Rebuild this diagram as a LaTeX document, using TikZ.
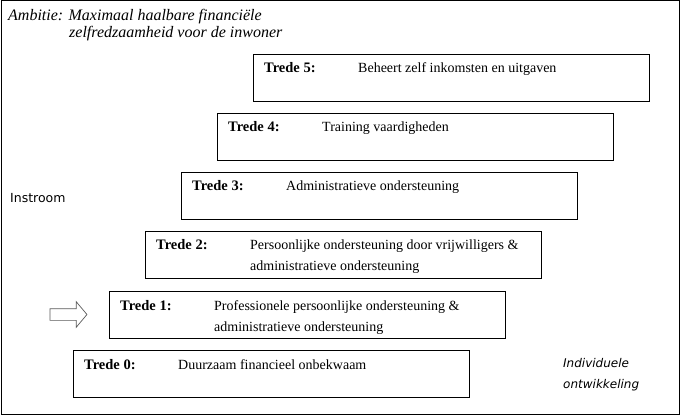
\documentclass[tikz,border=0pt]{standalone}
\usepackage{fontspec}
\setmainfont{Liberation Serif}
\newfontfamily\sansf{DejaVu Sans}
\usetikzlibrary{shapes.arrows}
\newcommand{\twoline}[3]{\vtop{\hbox{#2}\vskip#1\hbox{#3}}}
\begin{document}
\begin{tikzpicture}[x=1pt,y=-1pt,
  stepbox/.style={draw,line width=0.9pt,minimum width=396pt,minimum height=47pt,anchor=north west,inner sep=0pt},
  lbl/.style={anchor=base west,font=\fontsize{14.5}{16}\selectfont\bfseries,inner sep=0pt},
  desc/.style={anchor=base west,font=\fontsize{14}{16}\selectfont,inner sep=0pt},
  frame/.style={draw,line width=1pt}]
\useasboundingbox (0,0) rectangle (681,417);
\draw[frame] (1,1) rectangle (679,414);
\node[anchor=base west,inner sep=0pt,font=\fontsize{16}{16}\selectfont\itshape] (amb) at (8,21)
  {\twoline{1pt}{Ambitie: Maximaal haalbare financiële}{\hspace*{61pt}zelfredzaamheid voor de inwoner}};
\foreach \i/\x/\y in {5/253/54,4/217/113,3/181/172,2/145/231,1/109/291,0/73/350}{
  \node[stepbox] (t\i) at (\x,\y) {};
}
\node[lbl] (l5) at ([xshift=11pt,yshift=-19pt]t5.north west) {Trede 5:};
\node[lbl] (l4) at ([xshift=11pt,yshift=-19pt]t4.north west) {Trede 4:};
\node[lbl] (l3) at ([xshift=11pt,yshift=-19pt]t3.north west) {Trede 3:};
\node[lbl] (l2) at ([xshift=11pt,yshift=-19pt]t2.north west) {Trede 2:};
\node[lbl] (l1) at ([xshift=11pt,yshift=-19pt]t1.north west) {Trede 1:};
\node[lbl] (l0) at ([xshift=11pt,yshift=-19pt]t0.north west) {Trede 0:};
\node[desc] (d5) at ([xshift=105pt,yshift=-19pt]t5.north west) {Beheert zelf inkomsten en uitgaven};
\node[desc] (d4) at ([xshift=105pt,yshift=-19pt]t4.north west) {Training vaardigheden};
\node[desc] (d3) at ([xshift=105pt,yshift=-19pt]t3.north west) {Administratieve ondersteuning};
\node[desc] (d2) at ([xshift=105pt,yshift=-19pt]t2.north west) {\twoline{5pt}{Persoonlijke ondersteuning door vrijwilligers \&}{administratieve ondersteuning}};
\node[desc] (d1) at ([xshift=105pt,yshift=-19pt]t1.north west) {\twoline{5pt}{Professionele persoonlijke ondersteuning \&}{administratieve ondersteuning}};
\node[desc] (d0) at ([xshift=105pt,yshift=-19pt]t0.north west) {Duurzaam financieel onbekwaam};
\node[anchor=base west,inner sep=0pt,font=\sansf\fontsize{12.5}{14}\selectfont] (in) at (10,203) {Instroom};
\node[anchor=base west,inner sep=0pt,font=\sansf\fontsize{12}{14}\selectfont\itshape] (ind) at (563,367) {\twoline{7pt}{Individuele}{ontwikkeling}};
\node[single arrow,draw=black!65,line width=0.7pt,fill=white,minimum width=25pt,single arrow head extend=7pt,minimum height=37pt,inner xsep=0pt,inner ysep=5.5pt,shape border uses incircle=false,single arrow tip angle=100] (arr) at (66,314.5) {};
\end{tikzpicture}
\end{document}
